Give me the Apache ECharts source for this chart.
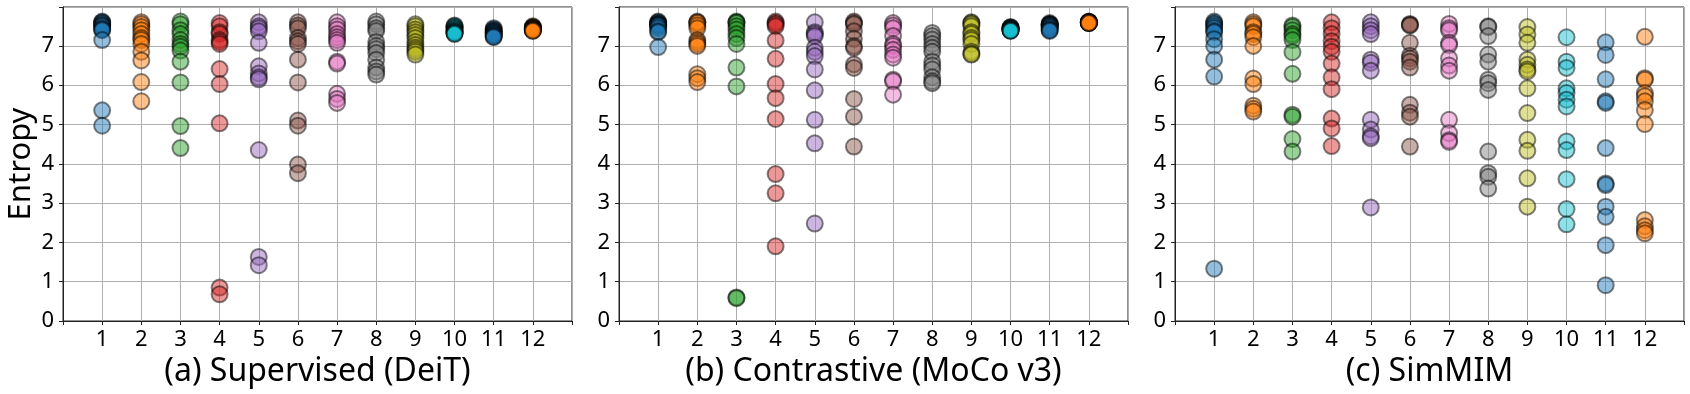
<!DOCTYPE html>
<html>
<head>
<meta charset="utf-8">
<script src="https://cdn.jsdelivr.net/npm/echarts@6/dist/echarts.min.js"></script>
<style>
  html, body { margin: 0; padding: 0; background: #fff; }
  #main { width: 1690px; height: 394px; }
</style>
</head>
<body>
<div id="main"></div>
<script>
// entropy of each head, per layer (1..12)
var layers = [1, 2, 3, 4, 5, 6, 7, 8, 9, 10, 11, 12];
var yTicks = [0, 1, 2, 3, 4, 5, 6, 7];
var panelTitles = ['(a) Supervised (DeiT)', '(b) Contrastive (MoCo v3)', '(c) SimMIM'];

var deit = [
    [7.62, 7.6, 7.58, 7.55, 7.52, 7.5, 7.45, 7.42, 7.4, 7.15, 5.36, 4.97],
    [7.6, 7.55, 7.48, 7.4, 7.3, 7.2, 7.15, 7.05, 6.85, 6.63, 6.08, 5.59],
    [7.62, 7.55, 7.4, 7.3, 7.15, 7.05, 6.98, 6.88, 6.6, 6.07, 4.96, 4.4],
    [7.58, 7.5, 7.35, 7.3, 7.15, 7.1, 7.05, 6.41, 6.03, 5.03, 0.85, 0.68],
    [7.6, 7.5, 7.45, 7.37, 7.08, 6.48, 6.3, 6.2, 6.15, 4.35, 1.63, 1.42],
    [7.6, 7.52, 7.45, 7.2, 7.12, 7.05, 6.65, 6.07, 5.1, 4.97, 3.98, 3.76],
    [7.6, 7.5, 7.42, 7.3, 7.22, 7.15, 7.08, 6.6, 6.55, 5.78, 5.65, 5.55],
    [7.62, 7.55, 7.45, 7.38, 7.1, 7.0, 6.92, 6.82, 6.65, 6.45, 6.35, 6.27],
    [7.55, 7.5, 7.42, 7.35, 7.28, 7.2, 7.1, 7.02, 6.95, 6.9, 6.85, 6.78],
    [7.52, 7.5, 7.48, 7.45, 7.43, 7.4, 7.38, 7.36, 7.35, 7.33, 7.32, 7.3],
    [7.45, 7.42, 7.4, 7.38, 7.36, 7.34, 7.32, 7.3, 7.28, 7.26, 7.24, 7.22],
    [7.5, 7.48, 7.47, 7.46, 7.45, 7.44, 7.43, 7.42, 7.41, 7.4, 7.39, 7.38]
];

var moco = [
    [7.62, 7.6, 7.58, 7.56, 7.55, 7.54, 7.52, 7.5, 7.45, 7.38, 7.35, 6.97],
    [7.62, 7.6, 7.58, 7.52, 7.45, 7.15, 7.1, 7.05, 7.0, 6.28, 6.18, 6.08],
    [7.62, 7.6, 7.58, 7.5, 7.42, 7.3, 7.2, 7.05, 6.45, 5.97, 0.6, 0.58],
    [7.62, 7.58, 7.55, 7.5, 7.14, 6.67, 6.03, 5.67, 5.14, 3.74, 3.25, 1.9],
    [7.6, 7.35, 7.3, 7.25, 6.95, 6.85, 6.74, 6.4, 5.87, 5.12, 4.52, 2.48],
    [7.62, 7.58, 7.55, 7.37, 7.18, 7.0, 6.95, 6.53, 6.44, 5.65, 5.2, 4.44],
    [7.58, 7.52, 7.45, 7.25, 7.05, 7.0, 6.9, 6.78, 6.7, 6.14, 6.1, 5.76],
    [7.33, 7.25, 7.16, 7.05, 6.95, 6.85, 6.6, 6.5, 6.4, 6.2, 6.1, 6.05],
    [7.6, 7.58, 7.55, 7.5, 7.35, 7.3, 7.2, 7.15, 7.05, 6.85, 6.8, 6.78],
    [7.48, 7.47, 7.46, 7.45, 7.44, 7.43, 7.42, 7.41, 7.4, 7.4, 7.39, 7.38],
    [7.58, 7.56, 7.55, 7.54, 7.53, 7.52, 7.5, 7.48, 7.45, 7.42, 7.4, 7.38],
    [7.62, 7.61, 7.61, 7.6, 7.6, 7.6, 7.6, 7.59, 7.59, 7.59, 7.58, 7.58]
];

var simmim = [
    [7.62, 7.58, 7.55, 7.5, 7.45, 7.38, 7.35, 7.17, 7.0, 6.65, 6.22, 1.33],
    [7.6, 7.55, 7.5, 7.35, 7.3, 7.22, 7.0, 6.17, 6.03, 5.48, 5.4, 5.33],
    [7.52, 7.48, 7.4, 7.3, 7.25, 7.15, 6.84, 6.29, 5.25, 5.2, 4.63, 4.31],
    [7.6, 7.45, 7.3, 7.12, 6.98, 6.85, 6.55, 6.2, 5.9, 5.15, 4.9, 4.45],
    [7.6, 7.5, 7.4, 7.3, 6.65, 6.57, 6.37, 5.12, 4.87, 4.7, 4.65, 2.89],
    [7.56, 7.54, 7.52, 7.08, 6.75, 6.68, 6.6, 6.45, 5.5, 5.3, 5.2, 4.44],
    [7.56, 7.45, 7.4, 7.08, 7.02, 6.68, 6.5, 6.37, 5.12, 4.78, 4.6, 4.56],
    [7.5, 7.48, 7.25, 6.78, 6.6, 6.14, 6.05, 5.88, 4.31, 3.76, 3.67, 3.37],
    [7.48, 7.29, 7.08, 6.65, 6.52, 6.4, 6.35, 5.92, 5.29, 4.61, 4.33, 3.63, 2.91],
    [7.22, 6.6, 6.44, 5.92, 5.8, 5.63, 5.46, 4.57, 4.35, 3.61, 2.85, 2.46],
    [7.09, 6.77, 6.15, 5.59, 5.55, 4.4, 3.5, 3.46, 2.91, 2.65, 1.93, 0.91],
    [7.23, 6.18, 6.14, 5.8, 5.72, 5.59, 5.37, 5.01, 2.57, 2.41, 2.31, 2.23]
];

var tab10 = ['#1f77b4', '#ff7f0e', '#2ca02c', '#d62728', '#9467bd',
             '#8c564b', '#e377c2', '#7f7f7f', '#bcbd22', '#17becf'];

var panels = [deit, moco, simmim];
var gridLefts = [63, 619, 1175];
var font = 'Noto Sans';

var chart = echarts.init(document.getElementById('main'));

var grids = [], xAxes = [], yAxes = [], series = [];

panels.forEach(function (panel, p) {
    grids.push({
        left: gridLefts[p], top: 7, width: 509, height: 314,
        show: true, borderColor: '#222', borderWidth: 1, backgroundColor: '#fff'
    });
    xAxes.push({
        type: 'value', gridIndex: p, min: 0, max: 13, interval: 1,
        name: panelTitles[p], nameLocation: 'middle', nameGap: 31,
        nameTextStyle: { fontSize: 32, color: '#000', fontFamily: font },
        axisLine: { lineStyle: { color: '#222', width: 1 } },
        axisTick: { show: true, length: 4, lineStyle: { color: '#222' } },
        axisLabel: {
            fontSize: 22, color: '#000', fontFamily: font, margin: 8,
            formatter: function (v) { return layers.indexOf(v) >= 0 ? String(v) : ''; }
        },
        splitLine: { show: true, lineStyle: { color: '#b0b0b0', width: 1 } }
    });
    yAxes.push({
        type: 'value', gridIndex: p, min: 0, max: 7.99, interval: 1,
        name: p === 0 ? 'Entropy' : '', nameLocation: 'middle', nameGap: 26,
        nameTextStyle: { fontSize: 31, color: '#000', fontFamily: font },
        axisLine: { show: true, lineStyle: { color: '#222', width: 1 } },
        axisTick: { show: true, length: 4, lineStyle: { color: '#222' } },
        axisLabel: {
            fontSize: 22, color: '#000', fontFamily: font, margin: 9,
            formatter: function (v) { return yTicks.indexOf(v) >= 0 ? String(v) : ''; }
        },
        splitLine: { show: true, lineStyle: { color: '#b0b0b0', width: 1 } }
    });
    panel.forEach(function (vals, i) {
        var c = echarts.color.modifyAlpha(tab10[i % 10], 0.6);
        series.push({
            type: 'scatter',
            xAxisIndex: p, yAxisIndex: p,
            symbol: 'circle', symbolSize: 16,
            itemStyle: { color: c, borderColor: 'rgba(0,0,0,0.6)', borderWidth: 2 },
            emphasis: { disabled: true },
            data: vals.map(function (v) { return [layers[i], v]; })
        });
    });
});

chart.setOption({
    animation: false,
    backgroundColor: '#fff',
    grid: grids,
    xAxis: xAxes,
    yAxis: yAxes,
    series: series
});
</script>
</body>
</html>
